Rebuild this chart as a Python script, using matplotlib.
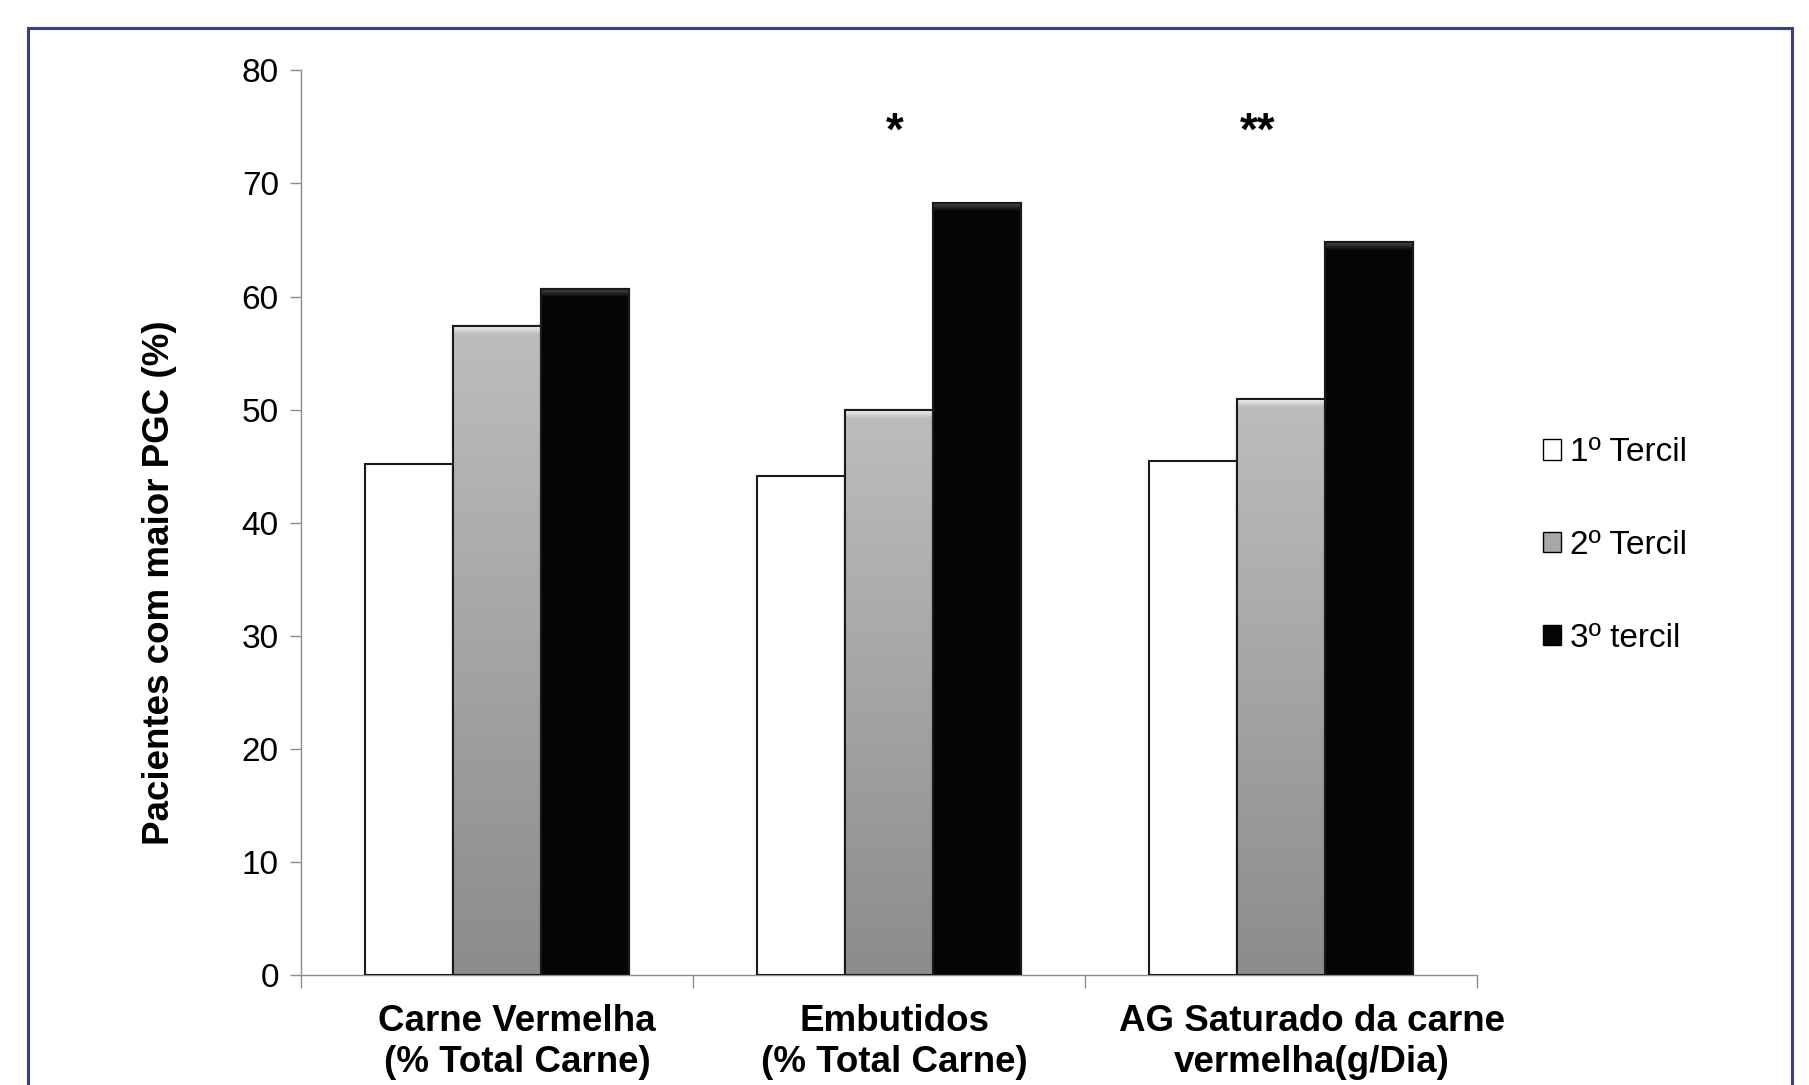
import numpy as np
import matplotlib
matplotlib.use("Agg")
import matplotlib.pyplot as plt
import matplotlib.transforms as mtransforms
from matplotlib.patches import Rectangle, Patch
from matplotlib.colors import LinearSegmentedColormap

plt.rcParams['font.family'] = ['Liberation Sans', 'DejaVu Sans']

# dados
categorias = ["Carne Vermelha\n(% Total Carne)",
              "Embutidos\n(% Total Carne)",
              "AG Saturado da carne\nvermelha(g/Dia)"]
tercil_1 = [45.2, 44.1, 45.5]
tercil_2 = [57.4, 50.0, 50.9]
tercil_3 = [60.7, 68.3, 64.8]
legendas = ["1º Tercil", "2º Tercil", "3º tercil"]
signif = ["", "*", "**"]

fig = plt.figure(figsize=(18.09, 10.85), dpi=100)
ax = fig.add_axes([0.1664, 0.1014, 0.6501, 0.8337])

x = np.arange(len(categorias))
w = 0.224

cinza = LinearSegmentedColormap.from_list("cinza", ["#8c8c8c", "#bdbdbd"])
brilho_cinza = LinearSegmentedColormap.from_list("bc", ["#bdbdbd", "#f2f2f2"])
brilho_preto = LinearSegmentedColormap.from_list("bp", ["#050505", "#4a4a4a"])

b1 = ax.bar(x - w, tercil_1, w, color="white", edgecolor="#1a1a1a", linewidth=1.5, zorder=3)
b2 = ax.bar(x, tercil_2, w, color="#a8a8a8", edgecolor="#1a1a1a", linewidth=1.5, zorder=3)
b3 = ax.bar(x + w, tercil_3, w, color="#050505", edgecolor="#1a1a1a", linewidth=1.5, zorder=3)

grad = np.linspace(0, 1, 256).reshape(-1, 1)


def pinta(r, cmap, y0, y1, z):
    x0 = r.get_x()
    im = ax.imshow(grad, cmap=cmap, origin="lower", aspect="auto",
                   extent=[x0, x0 + r.get_width(), y0, y1], zorder=z)
    im.set_clip_path(r)


# gradiente nas barras cinzas + brilho no topo
for r in b2:
    h = r.get_height()
    pinta(r, cinza, 0, h, 3.5)
    pinta(r, brilho_cinza, h - 0.7, h, 3.6)
for r in b3:
    h = r.get_height()
    pinta(r, brilho_preto, h - 0.7, h, 3.6)
for r in list(b2) + list(b3):
    ax.add_patch(Rectangle((r.get_x(), 0), r.get_width(), r.get_height(), fill=False,
                           edgecolor="#1a1a1a", linewidth=1.5, zorder=4))

# asteriscos
for i, s in enumerate(signif):
    if s:
        dx = 0.015 if len(s) == 1 else -0.06
        ax.text(x[i] + dx, 73.4, s, ha="center", va="baseline",
                fontsize=33, fontweight="bold")

ax.set_xlim(-0.5, 2.5)
ax.set_ylim(0, 80)
ax.set_yticks(np.arange(0, 81, 10))
ax.set_xticks(x)
ax.set_xticklabels(categorias, fontsize=26.5, fontweight="bold", linespacing=1.22)
ax.set_xticks(np.arange(-0.5, 2.6, 1), minor=True)
ax.tick_params(axis="x", which="major", length=0, pad=21)
ax.tick_params(axis="x", which="minor", length=9, color="#8c8c8c", width=1)
ax.tick_params(axis="y", length=8, color="#8c8c8c", width=1, labelsize=24, pad=8)

# deslocamento horizontal dos rótulos como no original
for lbl, dxp in zip(ax.get_xticklabels(), [20, 5, 31]):
    lbl.set_transform(lbl.get_transform() +
                      mtransforms.ScaledTranslation(dxp / 100, 0, fig.dpi_scale_trans))

for s in ["top", "right"]:
    ax.spines[s].set_visible(False)
for s in ["left", "bottom"]:
    ax.spines[s].set_color("#8c8c8c")
    ax.spines[s].set_linewidth(1)

fig.text(0.088, 0.463, "Pacientes com maior PGC (%)", rotation=90,
         ha="center", va="center", fontsize=26.5, fontweight="bold")

handles = [Patch(facecolor="white", edgecolor="black", linewidth=1),
           Patch(facecolor="#a8a8a8", edgecolor="black", linewidth=1),
           Patch(facecolor="#050505", edgecolor="black", linewidth=1)]
fig.legend(handles, legendas, loc="center left", bbox_to_anchor=(0.853, 0.4973),
           frameon=False, fontsize=24, handlelength=0.55, handleheight=0.55,
           handletextpad=0.25, labelspacing=1.85, borderpad=0, borderaxespad=0)

# moldura azul
fig.patches.append(Rectangle((0.0155, -0.05), 0.9751, 0.974 + 0.05,
                             transform=fig.transFigure, fill=False,
                             edgecolor="#3a3d8c", linewidth=2.2))

fig.savefig("out.png", dpi=100)
